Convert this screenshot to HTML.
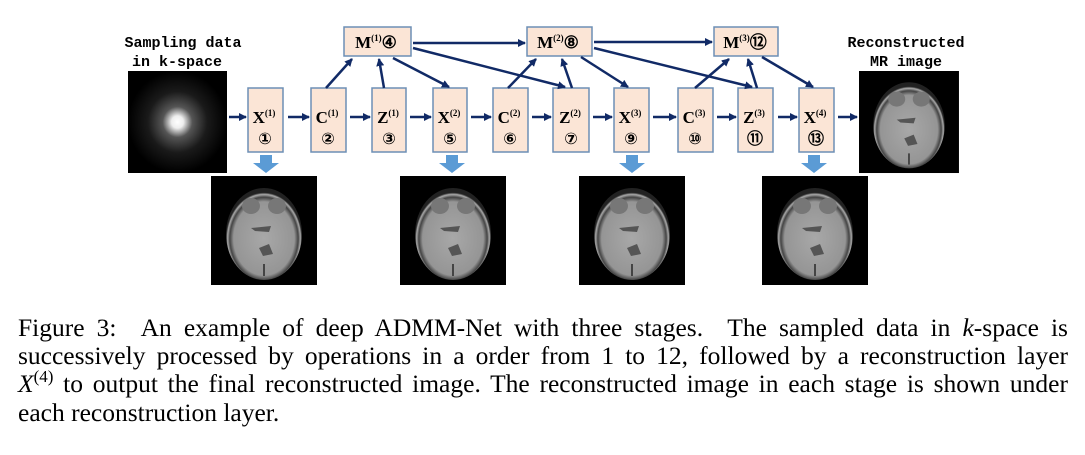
<!DOCTYPE html>
<html><head><meta charset="utf-8"><style>
html,body{margin:0;padding:0;background:#fff;}
svg{display:block;position:absolute;left:0;top:0}
.cl{position:absolute;left:18px;width:1050px;font-family:"Liberation Serif",serif;font-size:25.5px;line-height:28px;height:28px;text-align:justify;text-align-last:justify;color:#000;white-space:nowrap;}
.cl.last{text-align-last:left}
</style></head><body>
<svg width="1085" height="455" viewBox="0 0 1085 455" xmlns="http://www.w3.org/2000/svg">
<defs>
<marker id="ah" markerWidth="8" markerHeight="8" refX="7" refY="4" orient="auto" markerUnits="userSpaceOnUse">
<path d="M0,0 L8,4 L0,8 z" fill="#112a66"/>
</marker>
<radialGradient id="ks" cx="50%" cy="50%" r="50%">
<stop offset="0" stop-color="#fff"/><stop offset="0.12" stop-color="#eee"/><stop offset="0.3" stop-color="#555"/><stop offset="0.6" stop-color="#1a1a1a"/><stop offset="1" stop-color="#000"/>
</radialGradient>
<radialGradient id="br" cx="50%" cy="55%" r="50%">
<stop offset="0" stop-color="#a8a8a8"/><stop offset="0.8" stop-color="#959595"/><stop offset="0.9" stop-color="#444"/><stop offset="0.96" stop-color="#aaa"/><stop offset="1" stop-color="#222"/>
</radialGradient>
<g id="brain">
<rect x="0" y="0" width="106" height="109" fill="#000"/>
<ellipse cx="53" cy="58" rx="38" ry="46" fill="url(#br)"/>
<ellipse cx="40" cy="30" rx="9" ry="8" fill="#777"/>
<ellipse cx="66" cy="30" rx="9" ry="8" fill="#777"/>
<path d="M40,52 L60,50 L58,56 L44,55z" fill="#555"/>
<path d="M48,72 L58,68 L62,78 L52,80z" fill="#555"/>
<path d="M53,88 L53,100" stroke="#444" stroke-width="2"/>
</g>
</defs>

<text x="183" y="47" font-family="Liberation Mono, monospace" font-size="15" font-weight="bold" text-anchor="middle">Sampling data</text>
<text x="177" y="66" font-family="Liberation Mono, monospace" font-size="15" font-weight="bold" text-anchor="middle">in k-space</text>
<rect x="128" y="71" width="99" height="102" fill="url(#ks)"/>

<text x="906" y="47" font-family="Liberation Mono, monospace" font-size="15" font-weight="bold" text-anchor="middle">Reconstructed</text>
<text x="906" y="66" font-family="Liberation Mono, monospace" font-size="15" font-weight="bold" text-anchor="middle">MR image</text>
<g transform="translate(859,71) scale(0.943,0.936)"><use href="#brain"/></g>

<g fill="#fbe5d6" stroke="#6d8fb5" stroke-width="1.5">
<rect x="248" y="88" width="35" height="64"/>
<rect x="311" y="88" width="35" height="64"/>
<rect x="372" y="88" width="34" height="64"/>
<rect x="433" y="88" width="34" height="64"/>
<rect x="493" y="88" width="35" height="64"/>
<rect x="553" y="88" width="36" height="64"/>
<rect x="614" y="88" width="35" height="64"/>
<rect x="678" y="88" width="35" height="64"/>
<rect x="738" y="88" width="35" height="64"/>
<rect x="799" y="88" width="35" height="64"/>
<rect x="344" y="27" width="67" height="29"/>
<rect x="527" y="27" width="65" height="29"/>
<rect x="714" y="27" width="64" height="29"/>
</g>

<g font-family="Liberation Serif, serif" font-weight="bold" font-size="17" text-anchor="middle" fill="#000">
<text x="264" y="123">X<tspan font-size="9" dy="-7">(1)</tspan></text>
<text x="327" y="123">C<tspan font-size="9" dy="-7">(1)</tspan></text>
<text x="388" y="123">Z<tspan font-size="9" dy="-7">(1)</tspan></text>
<text x="449" y="123">X<tspan font-size="9" dy="-7">(2)</tspan></text>
<text x="509" y="123">C<tspan font-size="9" dy="-7">(2)</tspan></text>
<text x="570" y="123">Z<tspan font-size="9" dy="-7">(2)</tspan></text>
<text x="630" y="123">X<tspan font-size="9" dy="-7">(3)</tspan></text>
<text x="694" y="123">C<tspan font-size="9" dy="-7">(3)</tspan></text>
<text x="754" y="123">Z<tspan font-size="9" dy="-7">(3)</tspan></text>
<text x="815" y="123">X<tspan font-size="9" dy="-7">(4)</tspan></text>
<text x="376" y="48">M<tspan font-size="9" dy="-7">(1)</tspan><tspan dy="7">④</tspan></text>
<text x="558" y="48">M<tspan font-size="9" dy="-7">(2)</tspan><tspan dy="7">⑧</tspan></text>
<text x="745" y="48">M<tspan font-size="9" dy="-7">(3)</tspan><tspan dy="7">⑫</tspan></text>
</g>
<g font-family="DejaVu Sans, sans-serif" font-weight="bold" font-size="16" text-anchor="middle" fill="#000">
<text x="265" y="144">①</text><text x="328" y="144">②</text><text x="389" y="144">③</text>
<text x="450" y="144">⑤</text><text x="510" y="144">⑥</text><text x="571" y="144">⑦</text>
<text x="631" y="144">⑨</text><text x="695" y="144">⑩</text><text x="755" y="144">⑪</text>
<text x="816" y="144">⑬</text>
</g>

<g stroke="#112a66" stroke-width="2.5" marker-end="url(#ah)" fill="none">
<line x1="229" y1="117" x2="246" y2="117"/>
<line x1="288" y1="117" x2="309" y2="117"/>
<line x1="350" y1="117" x2="370" y2="117"/>
<line x1="410" y1="117" x2="431" y2="117"/>
<line x1="471" y1="117" x2="491" y2="117"/>
<line x1="532" y1="117" x2="551" y2="117"/>
<line x1="593" y1="117" x2="612" y2="117"/>
<line x1="653" y1="117" x2="676" y2="117"/>
<line x1="717" y1="117" x2="736" y2="117"/>
<line x1="778" y1="117" x2="797" y2="117"/>
<line x1="838" y1="117" x2="857" y2="117"/>
<line x1="326" y1="88" x2="352" y2="59"/>
<line x1="384" y1="88" x2="379" y2="59"/>
<line x1="393" y1="58" x2="449" y2="87"/>
<line x1="413" y1="43" x2="525" y2="43"/>
<line x1="413" y1="48" x2="565" y2="87"/>
<line x1="508" y1="88" x2="536" y2="59"/>
<line x1="572" y1="88" x2="562" y2="59"/>
<line x1="581" y1="57" x2="628" y2="87"/>
<line x1="594" y1="42" x2="712" y2="42"/>
<line x1="594" y1="48" x2="752" y2="87"/>
<line x1="695" y1="88" x2="729" y2="59"/>
<line x1="757" y1="88" x2="748" y2="59"/>
<line x1="762" y1="57" x2="813" y2="87"/>
</g>

<g fill="#5b9bd5">
<path d="M260,155 h12 v8 h7 l-13,10 l-13,-10 h7z"/>
<path d="M446,155 h12 v8 h7 l-13,10 l-13,-10 h7z"/>
<path d="M626,155 h12 v8 h7 l-13,10 l-13,-10 h7z"/>
<path d="M808,155 h12 v8 h7 l-13,10 l-13,-10 h7z"/>
</g>

<use href="#brain" x="211" y="176"/>
<use href="#brain" x="400" y="176"/>
<use href="#brain" x="579" y="176"/>
<use href="#brain" x="762" y="176"/>
</svg>
<div class="cl" style="top:314px">Figure 3: &nbsp;An example of deep ADMM-Net with three stages. &nbsp;The sampled data in <i>k</i>-space is</div>
<div class="cl" style="top:342px">successively processed by operations in a order from 1 to 12, followed by a reconstruction layer</div>
<div class="cl" style="top:370px"><i>X</i><span style="font-size:17px;position:relative;top:-10px">(4)</span> to output the final reconstructed image. The reconstructed image in each stage is shown under</div>
<div class="cl last" style="top:399px">each reconstruction layer.</div>
</body></html>
